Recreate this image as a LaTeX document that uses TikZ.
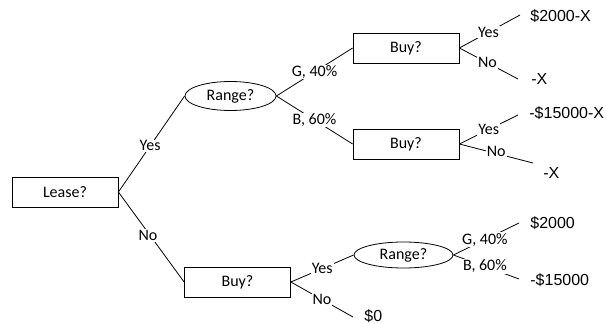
\documentclass[tikz,border=0pt]{standalone}
\usepackage{fontspec}
\setmainfont{Carlito}
\newfontfamily\valfont{Liberation Sans}
\usetikzlibrary{shapes.geometric}
\begin{document}
\begin{tikzpicture}[x=1pt,y=-1pt,
  line width=0.8pt,
  every node/.style={font=\fontsize{16}{18}\selectfont},
  decbox/.style={draw, rectangle, minimum width=106pt, minimum height=30pt, inner sep=0pt},
  chance/.style={draw, ellipse, inner sep=0pt},
  lbl/.style={fill=white, inner sep=1pt, font=\fontsize{16}{18}\selectfont},
  val/.style={anchor=west, inner sep=0pt, font=\valfont\fontsize{16}{18}\selectfont}]
\useasboundingbox (0,0) rectangle (606,324);
% nodes
\node[decbox] (lease) at (65,192) {Lease?};
\node[chance, minimum width=91pt, minimum height=29pt] (range1) at (230.5,96) {Range?};
\node[decbox] (buy1) at (406,48) {Buy?};
\node[decbox] (buy2) at (406,144) {Buy?};
\node[decbox] (buy3) at (237.5,282) {Buy?};
\node[chance, minimum width=99pt, minimum height=26pt] (range2) at (403.5,255) {Range?};
% free ends
\coordinate (e1) at (520,15);
\coordinate (e2) at (518,79);
\coordinate (e3) at (518,115);
\coordinate (e4) at (533,163);
\coordinate (e5) at (519,223);
\coordinate (e6) at (519,279);
\coordinate (e7) at (353,317);
% outcome values
\node[val] (v1) at (530,16) {\$2000-X};
\node[val] (v2) at (531,79) {-X};
\node[val] (v3) at (529,113) {-\$15000-X};
\node[val] (v4) at (543,173) {-X};
\node[val] (v5) at (530,223) {\$2000};
\node[val] (v6) at (530,280) {-\$15000};
\node[val] (v7) at (364,316) {\$0};
% connectors
\draw (lease.east) -- node[lbl,pos=0.48] {Yes} (range1.west);
\draw (lease.east) -- node[lbl,pos=0.45,yshift=-3pt] {No} (buy3.west);
\draw (range1.east) -- node[lbl,pos=0.5] {G, 40\%} (buy1.west);
\draw (range1.east) -- node[lbl,pos=0.5] {B, 60\%} (buy2.west);
\draw (buy1.east) -- node[lbl,pos=0.48] {Yes} (e1);
\draw (buy1.east) -- node[lbl,pos=0.48] {No} (e2);
\draw (buy2.east) -- node[lbl,pos=0.5] {Yes} (e3);
\draw (buy2.east) -- node[lbl,pos=0.5,yshift=2pt] {No} (e4);
\draw (buy3.east) -- node[lbl,pos=0.5] {Yes} (range2.west);
\draw (buy3.east) -- node[lbl,pos=0.5] {No} (e7);
\draw (range2.east) -- node[lbl,pos=0.48] {G, 40\%} (e5);
\draw (range2.east) -- node[lbl,pos=0.48] {B, 60\%} (e6);
\end{tikzpicture}
\end{document}
